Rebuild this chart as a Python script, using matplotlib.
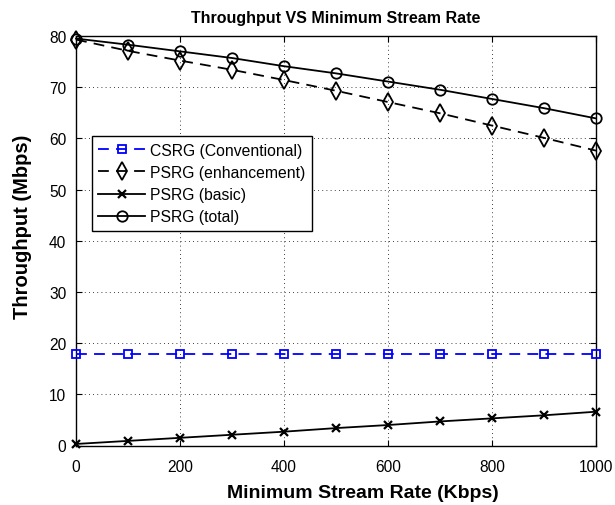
import matplotlib
matplotlib.use("Agg")
import matplotlib.pyplot as plt

plt.rcParams['font.family'] = ['Liberation Sans', 'DejaVu Sans']

rate = [0, 100, 200, 300, 400, 500, 600, 700, 800, 900, 1000]
csrg = [17.8] * 11
psrg_enh = [79.3, 77.1, 75.2, 73.4, 71.4, 69.3, 67.1, 64.9, 62.5, 60.1, 57.6]
psrg_basic = [0.3, 0.9, 1.5, 2.1, 2.7, 3.4, 4.0, 4.7, 5.3, 5.9, 6.6]
psrg_total = [79.5, 78.3, 77.0, 75.7, 74.1, 72.7, 71.1, 69.5, 67.7, 65.9, 63.9]

fig = plt.figure(figsize=(6.15, 5.06), dpi=100)
left, right, top, bottom = 76, 596, 37, 446.5
ax = fig.add_axes([left / 615, 1 - bottom / 506, (right - left) / 615, (bottom - top) / 506])

lw = 1.3
ax.plot(rate, csrg, color='#0000ff', lw=lw, dashes=(6, 4), marker='s', ms=5.5,
        mfc='none', mec='#0000ff', mew=1.3, label='CSRG (Conventional)', clip_on=False, zorder=3)
ax.plot(rate, psrg_enh, color='black', lw=lw, dashes=(6, 4), marker='d', ms=9,
        mfc='none', mec='black', mew=1.3, label='PSRG (enhancement)', clip_on=False, zorder=3)
ax.plot(rate, psrg_basic, color='black', lw=lw, marker='x', ms=6,
        mec='black', mew=1.6, label='PSRG (basic)', clip_on=False, zorder=3)
ax.plot(rate, psrg_total, color='black', lw=lw, marker='o', ms=7.5,
        mfc='none', mec='black', mew=1.3, label='PSRG (total)', clip_on=False, zorder=3)

ax.set_xlim(0, 1000)
ax.set_ylim(0, 80)
ax.set_xticks(range(0, 1001, 200))
ax.set_yticks(range(0, 81, 10))
ax.grid(True, color='black', linestyle=(0, (1, 4)), linewidth=0.6)
ax.tick_params(direction='in', labelsize=11.2, length=4, top=True, right=True)
ax.tick_params(axis='x', pad=10)
ax.tick_params(axis='y', pad=7)
for s in ax.spines.values():
    s.set_linewidth(1.0)

ax.set_title('Throughput VS Minimum Stream Rate', fontsize=11.5, fontweight='bold', pad=10)
ax.set_xlabel('Minimum Stream Rate (Kbps)', fontsize=14, fontweight='bold', labelpad=4)
ax.xaxis.set_label_coords((362.5 - left) / (right - left), -(498 - bottom) / (bottom - top))
ax.xaxis.label.set_va('baseline')
ax.set_ylabel('Throughput (Mbps)', fontsize=14.5, fontweight='bold')
ax.yaxis.set_label_coords(-(76 - 22.5) / (right - left), (bottom - 226.7) / (bottom - top))
ax.yaxis.label.set_va('center')

leg = ax.legend(loc='upper left', bbox_to_anchor=(0.030, 0.755), fontsize=11.3,
                frameon=True, fancybox=False, edgecolor='black', framealpha=1,
                borderpad=0.42, labelspacing=0.45, handlelength=3.0,
                handletextpad=0.3, borderaxespad=0)
leg.get_frame().set_linewidth(1.0)

fig.savefig('out.png', dpi=100)
